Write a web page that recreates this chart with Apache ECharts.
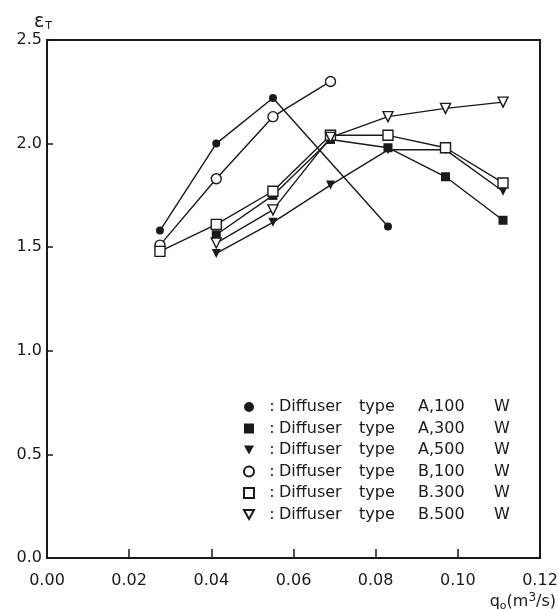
<!DOCTYPE html>
<html>
<head>
<meta charset="utf-8">
<script src="https://cdn.jsdelivr.net/npm/echarts@6/dist/echarts.min.js"></script>
<style>
  html, body { margin: 0; padding: 0; background: #fff; }
  #chart { width: 558px; height: 609px; }
</style>
</head>
<body>
<div id="chart"></div>
<script>
// Air flow rate q0 (m^3/s) at which each diffuser was measured
const flowRates = [0.0275, 0.0412, 0.055, 0.069, 0.083, 0.097, 0.111];

// Ventilation effectiveness εT per run (null = not measured)
const typeA100 = [1.58, 2.00, 2.22, null, 1.60, null, null];
const typeA300 = [null, 1.56, 1.75, 2.02, 1.98, 1.84, 1.63];
const typeA500 = [null, 1.47, 1.62, 1.80, 1.97, 1.97, 1.77];
const typeB100 = [1.51, 1.83, 2.13, 2.30, null, null, null];
const typeB300 = [1.48, 1.61, 1.77, 2.04, 2.04, 1.98, 1.81];
const typeB500 = [null, 1.52, 1.68, 2.03, 2.13, 2.17, 2.20];

const seriesNames = [
  'Diffuser type A,100 W',
  'Diffuser type A,300 W',
  'Diffuser type A,500 W',
  'Diffuser type B,100 W',
  'Diffuser type B.300 W',
  'Diffuser type B.500 W'
];

const xTicks = [0, 0.02, 0.04, 0.06, 0.08, 0.10, 0.12];
const yTicks = [0, 0.5, 1.0, 1.5, 2.0, 2.5];

const INK = '#1a1a1a';
const FONT = '"DejaVu Sans", sans-serif';
const downTri = 'path://M0,0 L10,0 L5,9 Z';

function pairs(values) {
  const out = [];
  values.forEach((v, i) => { if (v !== null) out.push([flowRates[i], v]); });
  return out;
}

function makeSeries(name, values, symbol, size, filled) {
  return {
    name: name,
    type: 'line',
    data: pairs(values),
    symbol: symbol,
    symbolSize: size,
    showAllSymbol: true,
    lineStyle: { color: INK, width: 1.4 },
    itemStyle: {
      color: filled ? INK : '#fff',
      borderColor: INK,
      borderWidth: filled ? 0 : 1.4
    },
    emphasis: { disabled: true },
    animation: false
  };
}

// legend text is laid out in fixed columns: ":", "Diffuser", "type", "A,100", "W"
const legendCol = (w) => ({ width: w, align: 'left', fontSize: 16, fontFamily: FONT, color: INK });

const chart = echarts.init(document.getElementById('chart'), null, { renderer: 'canvas' });

chart.setOption({
  backgroundColor: '#fff',
  animation: false,
  grid: {
    left: 47, top: 40, right: 18, bottom: 51,
    outerBoundsMode: 'none',
    containLabel: false,
    show: true, borderColor: INK, borderWidth: 2,
    backgroundColor: 'transparent'
  },
  xAxis: {
    type: 'value',
    min: xTicks[0], max: xTicks[xTicks.length - 1], interval: 0.02,
    axisLine: { lineStyle: { color: INK, width: 2 } },
    axisTick: { inside: true, length: 9, lineStyle: { color: INK, width: 1.5 } },
    splitLine: { show: false },
    axisLabel: {
      color: INK, fontSize: 16, fontFamily: FONT, margin: 15,
      formatter: v => v.toFixed(2)
    },
    name: '{q|q}{o|o}{n|(m}{s|3}{n|/s)}',
    nameLocation: 'end',
    nameGap: 16,
    nameTextStyle: {
      align: 'right', verticalAlign: 'top', padding: [34, 0, 0, 0],
      fontFamily: FONT, color: INK,
      rich: {
        q: { fontSize: 16, fontFamily: FONT, color: INK },
        o: { fontSize: 11, fontFamily: FONT, color: INK, padding: [8, 0, 0, 0] },
        n: { fontSize: 16, fontFamily: FONT, color: INK },
        s: { fontSize: 12, fontFamily: FONT, color: INK, padding: [0, 0, 8, 0] }
      }
    }
  },
  yAxis: {
    type: 'value',
    min: yTicks[0], max: yTicks[yTicks.length - 1], interval: 0.5,
    axisLine: { show: true, lineStyle: { color: INK, width: 2 } },
    axisTick: { show: true, inside: true, length: 6, lineStyle: { color: INK, width: 1.5 } },
    splitLine: { show: false },
    axisLabel: {
      color: INK, fontSize: 16, fontFamily: FONT, margin: 5,
      formatter: v => v.toFixed(1)
    },
    name: '{e|ε}{t|T}',
    nameLocation: 'end',
    nameGap: 6,
    nameTextStyle: {
      align: 'center', padding: [0, 8, 0, 0],
      rich: {
        e: { fontSize: 19, fontFamily: FONT, color: INK },
        t: { fontSize: 11, fontFamily: FONT, color: INK, padding: [9, 0, 0, 1] }
      }
    }
  },
  legend: {
    orient: 'vertical',
    left: 243, top: 399,
    padding: 0,
    itemWidth: 10, itemHeight: 10,
    itemGap: 5.5,
    selectedMode: false,
    data: [
      { name: seriesNames[0], icon: 'circle' },
      { name: seriesNames[1], icon: 'rect' },
      { name: seriesNames[2], icon: downTri },
      { name: seriesNames[3], icon: 'circle' },
      { name: seriesNames[4], icon: 'rect' },
      { name: seriesNames[5], icon: downTri }
    ],
    textStyle: {
      fontFamily: FONT, fontSize: 16, color: INK, lineHeight: 16,
      rich: {
        c: legendCol(20),
        d: legendCol(80),
        t: legendCol(59),
        v: legendCol(76),
        w: { align: 'left', fontSize: 16, fontFamily: FONT, color: INK }
      }
    },
    formatter: name => {
      const p = name.split(' ');
      return '{c|  :}{d|' + p[0] + '}{t|' + p[1] + '}{v|' + p[2] + '}{w|' + p[3] + '}';
    }
  },
  series: [
    makeSeries(seriesNames[0], typeA100, 'circle', 8, true),
    makeSeries(seriesNames[1], typeA300, 'rect', 9, true),
    makeSeries(seriesNames[2], typeA500, downTri, 9, true),
    makeSeries(seriesNames[3], typeB100, 'circle', 10, false),
    makeSeries(seriesNames[4], typeB300, 'rect', 10, false),
    makeSeries(seriesNames[5], typeB500, downTri, 10, false)
  ]
});
</script>
</body>
</html>
